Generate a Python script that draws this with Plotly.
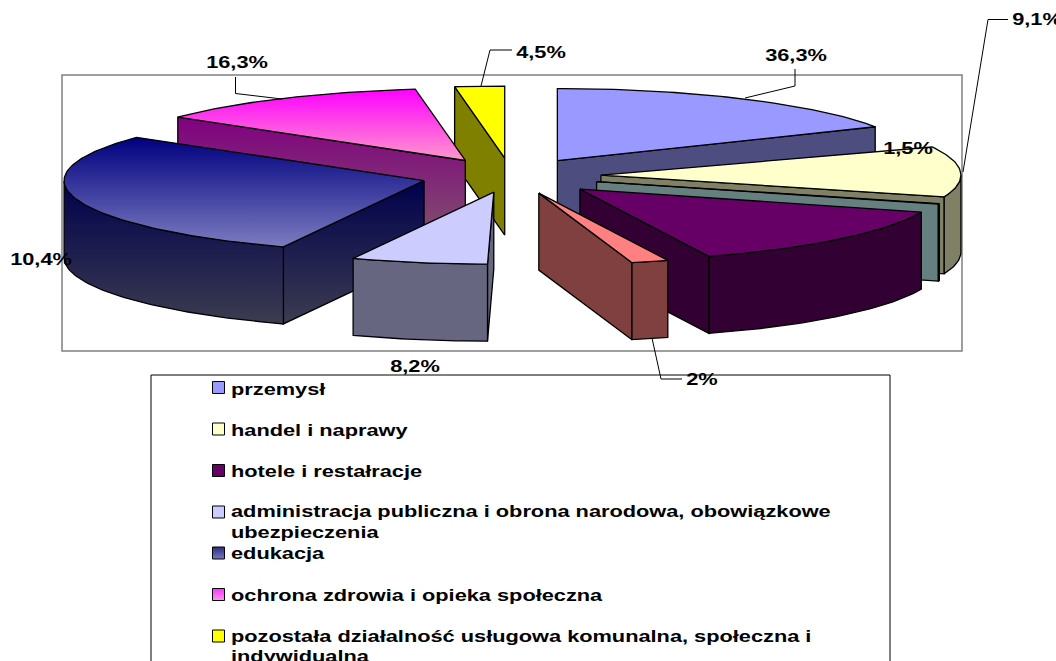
import math
import plotly.graph_objects as go

# ---------- data ----------
slice_names = ["przemysł", "handel i naprawy", "(bez nazwy 1)", "hotele i restałracje", "(bez nazwy 2)",
               "administracja publiczna", "edukacja", "ochrona zdrowia", "pozostała działalność"]
pct_labels = ["36,3%", "9,1%", "1,5%", "", "2%", "8,2%", "10,4%", "16,3%", "4,5%"]
# drawn sweep of each slice on the ellipse, degrees clockwise from 12 o'clock
slice_start_deg = [0, 67, 107.8, 108.5, 159, 181, 203, 307, 352]
slice_end_deg = [62, 107.5, 108.3, 159, 165, 203, 307, 352, 360]
slice_explode = [0.25, 0.25, 0.25, 0.265, 0.25, 0.23, 0.25, 0.25, 0.25]

legend_lines = ["przemysł", "handel i naprawy", "hotele i restałracje",
                "administracja publiczna i obrona narodowa, obowiązkowe", "ubezpieczenia",
                "edukacja", "ochrona zdrowia i opieka społeczna",
                "pozostała działalność usługowa komunalna, społeczna i", "indywidualna"]

# ---------- geometry and styling (pixel space) ----------
W, H = 1056, 661
CX, CY, RX, RY, DEPTH = 511, 176, 360, 72, 77
FONT = "Liberation Sans, Arial, sans-serif"
FONT_SIZE = 17
TEXT_STRETCH = 1.28

top_fill = ["#9999ff", "#ffffcc", "#ccffff", "#660066", "#ff8080", "#ccccff",
            ("#000080", "#7c7cc0"), ("#ff00ff", "#ff99cc"), "#ffff00"]
side_fill = ["#4d4d80", "#808066", "#668080", "#330033", "#804040", "#666680",
             ("#00004d", "#3c3c50"), ("#800080", "#80506e"), "#808000"]
draw_order = [8, 7, 6, 5, 0, 1, 2, 3, 4]

label_xy = [(796, 57), (1037, 21), (908, 150), None, (702, 381), (415, 368), (41, 261), (237, 64), (541, 54)]
leaders = [
    [(795, 69), (795, 86), (745, 98)],
    [(1008, 19.5), (988, 19.5), (963, 172)],
    [(512, 50), (490, 50), (481, 86)],
    [(235.5, 77), (235.5, 93.5), (282, 99)],
    [(652, 338), (661, 379), (682, 379)],
]
legend_text_y = [391, 432, 473, 513, 534, 555, 597, 638, 658]
legend_swatch_y = [387.5, 429, 470.5, 512, 553, 594.5, 636]
legend_colors = ["#9999ff", "#ffffcc", "#660066", "#ccccff", ("#7c7cc0", "#2a2a80"), ("#ff99ee", "#ff33ff"), "#ffff00"]


def rim(apex, t):
    a = math.radians(t)
    return apex[0] + RX * math.sin(a), apex[1] - RY * math.cos(a)


def arc(apex, t0, t1):
    n = max(2, int(abs(t1 - t0)) + 1)
    return [rim(apex, t0 + (t1 - t0) * i / (n - 1)) for i in range(n)]


def add_poly(fig, pts, fill, name):
    xs = [p[0] for p in pts] + [pts[0][0]]
    ys = [p[1] for p in pts] + [pts[0][1]]
    kw = dict(x=xs, y=ys, mode="lines", fill="toself", name=name, hoverinfo="name",
              line=dict(color="black", width=1.3), showlegend=False)
    if isinstance(fill, tuple):
        lo, hi = min(ys), max(ys)
        kw["fillgradient"] = dict(type="vertical", colorscale=[[0, fill[0]], [1, fill[1]]], start=lo, stop=hi)
        kw["fillcolor"] = fill[1]
    else:
        kw["fillcolor"] = fill
    fig.add_trace(go.Scatter(**kw))


def down(pts):
    return [(x, y + DEPTH) for x, y in pts]


fig = go.Figure()
for i in draw_order:
    t0, t1 = slice_start_deg[i], slice_end_deg[i]
    mid = math.radians((t0 + t1) / 2)
    e = slice_explode[i]
    apex = (CX + e * RX * math.sin(mid), CY - e * RY * math.cos(mid))
    name = slice_names[i]
    if t0 > 180:  # start cut faces the viewer
        edge = [apex, rim(apex, t0)]
        add_poly(fig, edge + down(edge)[::-1], side_fill[i], name)
    if t1 < 180:  # end cut faces the viewer
        edge = [apex, rim(apex, t1)]
        add_poly(fig, edge + down(edge)[::-1], side_fill[i], name)
    a0, a1 = max(t0, 90), min(t1, 270)
    if a1 > a0:  # front part of the outer wall
        wall = arc(apex, a0, a1)
        add_poly(fig, wall + down(wall)[::-1], side_fill[i], name)
    add_poly(fig, [apex] + arc(apex, t0, t1), top_fill[i], name)

for seg in leaders:
    fig.add_trace(go.Scatter(x=[p[0] for p in seg], y=[p[1] for p in seg], mode="lines",
                             line=dict(color="black", width=1), hoverinfo="skip", showlegend=False))

# legend swatches
for y, col, nm in zip(legend_swatch_y, legend_colors, [legend_lines[k] for k in (0, 1, 2, 3, 5, 6, 7)]):
    marker = dict(symbol="square", size=12, line=dict(color="black", width=1))
    if isinstance(col, tuple):
        marker["color"] = col[1]
        marker["gradient"] = dict(type="vertical", color=col[0])
    else:
        marker["color"] = col
    fig.add_trace(go.Scatter(x=[218.5], y=[y], mode="markers", marker=marker, name=nm,
                             hoverinfo="name", showlegend=False))

# legend text
fig.add_trace(go.Scatter(x=[231] * len(legend_lines), y=legend_text_y, mode="text", text=legend_lines,
                         textposition="middle right", textfont=dict(family=FONT, size=FONT_SIZE, color="black", weight="bold"),
                         hoverinfo="skip", showlegend=False, cliponaxis=False))
# percentage labels
labelled = [k for k, t in enumerate(pct_labels) if t]
fig.add_trace(go.Scatter(x=[label_xy[k][0] for k in labelled], y=[label_xy[k][1] for k in labelled], mode="text",
                         text=[pct_labels[k] for k in labelled], textposition="middle center",
                         textfont=dict(family=FONT, size=FONT_SIZE, color="black", weight="bold"),
                         hoverinfo="skip", showlegend=False, cliponaxis=False))

fig.update_layout(
    width=W, height=H, margin=dict(l=0, r=0, t=0, b=0), paper_bgcolor="white", plot_bgcolor="white",
    xaxis=dict(range=[0, W], visible=False, fixedrange=True),
    yaxis=dict(range=[H, 0], visible=False, fixedrange=True),
    shapes=[
        dict(type="rect", x0=62, y0=75, x1=962, y1=351, layer="below", line=dict(color="#808080", width=1.5)),
        dict(type="rect", x0=151, y0=375, x1=890, y1=H + 20, layer="below", line=dict(color="black", width=1)),
    ],
)

post = """
document.body.style.margin = '0';
document.body.style.overflow = 'hidden';
document.querySelectorAll('.textpoint text').forEach(function (el) {
  var w = el.getComputedTextLength();
  el.setAttribute('textLength', w * %s);
  el.setAttribute('lengthAdjust', 'spacingAndGlyphs');
});
""" % TEXT_STRETCH
fig.write_html("out.html", config={"displayModeBar": False}, post_script=post)
